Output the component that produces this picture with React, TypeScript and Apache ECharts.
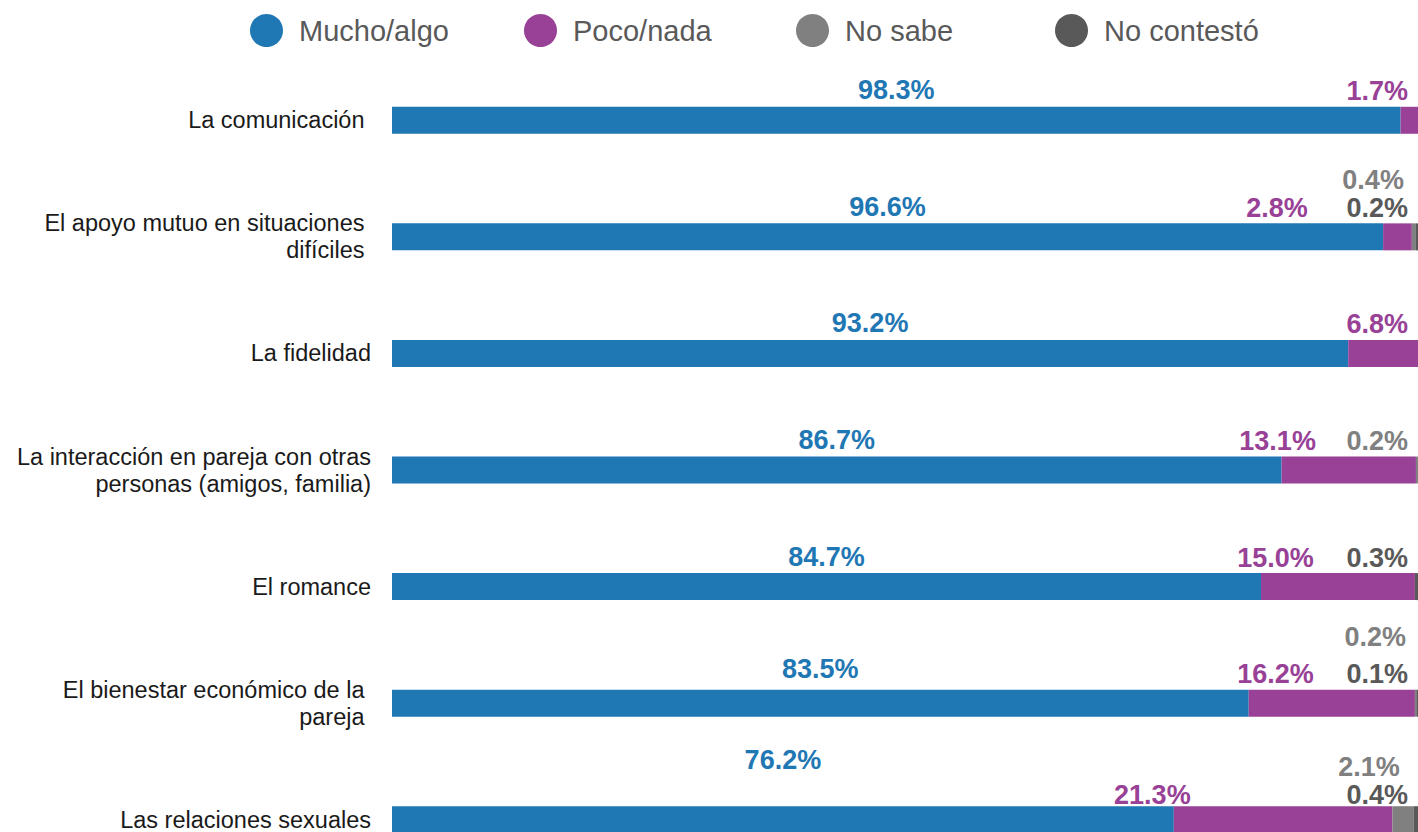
import React, { useEffect, useRef } from "react";
import * as echarts from "echarts";

// ---- data ----
const CATEGORIES = [
  "La comunicación ",
  "El apoyo mutuo en situaciones \ndifíciles ",
  "La fidelidad",
  "La interacción en pareja con otras\npersonas (amigos, familia)",
  "El romance",
  "El bienestar económico de la \npareja ",
  "Las relaciones sexuales",
];
const SERIES_NAMES = ["Mucho/algo", "Poco/nada", "No sabe", "No contestó"];
const MUCHO = [98.3, 96.6, 93.2, 86.7, 84.7, 83.5, 76.2];
const POCO = [1.7, 2.8, 6.8, 13.1, 15.0, 16.2, 21.3];
const NO_SABE = [0, 0.4, 0, 0.2, 0, 0.2, 2.1];
const NO_CONTESTO = [0, 0.2, 0, 0, 0.3, 0.1, 0.4];

// ---- style / layout ----
const W = 1418;
const H = 900; // the plot runs past the bottom of the 832px window, as in the reference
const GRID_LEFT = 392;
const GRID_RIGHT = -2;
const GRID_W = W - GRID_LEFT - GRID_RIGHT;
const PX = GRID_W / 100;
const COLORS = ["#1F77B4", "#984196", "#808080", "#595959"];
const FONT = "Arial, 'Liberation Sans', Helvetica, sans-serif";
const LABEL_SIZE = 27;
const RIGHT_PAD = 10;
const GRAY_SLOT = 88;
const LINE_GAP = 28;
const DIST = 2;
const PURPLE_EXTRA_SHIFT = [0, 0, 0, 0, 0, 0, -78];
const BLUE_EXTRA_LIFT = [0, 0, 0, 0, 0, 4, 30];
const RIGHT_LABEL_LIFT = [0, 0, 0, 0, 0, 0, 4];
const SABE_EXTRA_LIFT = [0, 0, 0, 0, 0, 9, 0];

const fmt = (v: number) => v.toFixed(1) + "%";

function baseLabel(color: string) {
  return {
    show: true,
    color,
    fontSize: LABEL_SIZE,
    fontWeight: "bold" as const,
    fontFamily: FONT,
  };
}

export default function App() {
  const ref = useRef<HTMLDivElement>(null);
  useEffect(() => {
    if (!ref.current) return;
    const chart = echarts.init(ref.current, undefined, { renderer: "svg" });

    const blueData = MUCHO.map((v, i) => ({
      value: v,
      label: {
        ...baseLabel(COLORS[0]),
        position: "top",
        distance: DIST + 1 + BLUE_EXTRA_LIFT[i],
        formatter: () => fmt(v),
      },
    }));

    const purpleData = POCO.map((v, i) => {
      const hasGray = NO_SABE[i] > 0 || NO_CONTESTO[i] > 0;
      const gapPx = (100 - MUCHO[i] - v) * PX;
      return {
        value: v,
        label: {
          ...baseLabel(COLORS[1]),
          show: v > 0,
          position: ["100%", 0],
          align: "right",
          verticalAlign: "bottom",
          offset: [
            -gapPx - RIGHT_PAD - (hasGray ? GRAY_SLOT : 0) + PURPLE_EXTRA_SHIFT[i],
            -DIST + RIGHT_LABEL_LIFT[i],
          ],
          formatter: () => fmt(v),
        },
      };
    });

    const sabeData = NO_SABE.map((v, i) => {
      const nc = NO_CONTESTO[i];
      return {
        value: v,
        label: {
          ...baseLabel(COLORS[2]),
          show: v > 0,
          position: ["100%", 0],
          align: "right",
          verticalAlign: "bottom",
          offset: [
            -nc * PX - RIGHT_PAD,
            -DIST - (nc > 0 ? LINE_GAP + SABE_EXTRA_LIFT[i] : 0) + RIGHT_LABEL_LIFT[i],
          ],
          formatter: () => fmt(v),
        },
      };
    });

    const contestoData = NO_CONTESTO.map((v, i) => ({
      value: v,
      label: {
        ...baseLabel(COLORS[3]),
        show: v > 0,
        position: ["100%", 0],
        align: "right",
        verticalAlign: "bottom",
        offset: [-RIGHT_PAD, -DIST + RIGHT_LABEL_LIFT[i]],
        formatter: () => fmt(v),
      },
    }));

    const allData = [blueData, purpleData, sabeData, contestoData];
    const legendLefts = [245, 519, 791, 1050];

    chart.setOption({
      animation: false,
      textStyle: { fontFamily: FONT },
      legend: SERIES_NAMES.map((n, i) => ({
        data: [n],
        left: legendLefts[i],
        top: 9,
        icon: "circle",
        itemWidth: 55,
        itemHeight: 33,
        selectedMode: false,
        textStyle: { fontSize: 29, color: "#595959", fontFamily: FONT },
      })),
      grid: { left: GRID_LEFT, right: GRID_RIGHT, top: 62, height: 816, containLabel: false },
      xAxis: { type: "value", min: 0, max: 100, show: false },
      yAxis: {
        type: "category",
        inverse: true,
        data: CATEGORIES,
        axisLine: { show: false },
        axisTick: { show: false },
        splitLine: { show: false },
        axisLabel: {
          margin: 21,
          fontSize: 23.5,
          lineHeight: 27,
          color: "#1a1a1a",
          fontFamily: FONT,
          formatter: (val: string) => {
            const lines = val.split("\n");
            return lines
              .map((l) => (l.endsWith(" ") ? `{t|${l.trimEnd()}}` : `{n|${l}}`))
              .join("\n");
          },
          rich: {
            t: { padding: [0, 6.5, 0, 0], fontSize: 23.5, lineHeight: 27, color: "#1a1a1a", fontFamily: FONT },
            n: { fontSize: 23.5, lineHeight: 27, color: "#1a1a1a", fontFamily: FONT },
          },
        },
      },
      series: SERIES_NAMES.map((n, i) => ({
        name: n,
        type: "bar",
        stack: "total",
        barWidth: 27,
        itemStyle: { color: COLORS[i] },
        data: allData[i],
      })),
    });
    return () => chart.dispose();
  }, []);
  return (
    <div
      ref={ref}
      style={{ position: "fixed", left: 0, top: 0, width: W, height: H, background: "#fff" }}
    />
  );
}
